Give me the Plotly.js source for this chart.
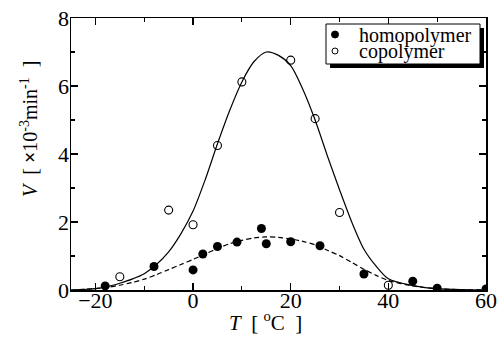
<!DOCTYPE html>
<html>
<head>
<meta charset="utf-8">
<script src="https://cdn.plot.ly/plotly-3.0.1.min.js"></script>
<style>html,body{margin:0;padding:0;background:#fff;}#chart{width:503px;height:346px;}</style>
</head>
<body>
<div id="chart"></div>
<script>
// Measured data points
const homoT = [-18, -8, 0, 2, 5, 9, 14, 15, 20, 26, 35, 45, 50, 60];
const homoV = [0.12, 0.69, 0.59, 1.06, 1.28, 1.41, 1.81, 1.36, 1.42, 1.30, 0.47, 0.26, 0.05, 0.03];
const copoT = [-15, -5, 0, 5, 10, 20, 25, 30, 40];
const copoV = [0.39, 2.35, 1.92, 4.25, 6.12, 6.76, 5.04, 2.28, 0.14];

// Fitted curves
const fitT = [-25, -20, -17.5, -15, -12.5, -10, -7.5, -5, -2.5, 0, 2.5, 5, 7.5, 10, 12.5, 15, 17.5, 20, 22.5, 25, 27.5, 30, 32.5, 35, 37.5, 40, 45, 50, 55, 60];
const copoFit = [0, 0.04, 0.1, 0.2, 0.32, 0.48, 0.75, 1.12, 1.65, 2.32, 3.25, 4.3, 5.28, 6.12, 6.72, 7.0, 6.9, 6.6, 5.9, 5.0, 3.95, 2.95, 2.0, 1.2, 0.7, 0.33, 0.13, 0.04, 0.01, 0];
const homoFit = [0, 0.04, 0.08, 0.14, 0.22, 0.32, 0.45, 0.6, 0.75, 0.9, 1.06, 1.22, 1.36, 1.46, 1.53, 1.56, 1.55, 1.5, 1.43, 1.33, 1.17, 1.01, 0.81, 0.61, 0.43, 0.28, 0.12, 0.04, 0.01, 0];

const legendLabels = ["homopolymer", "copolymer"];
const xTitle = "<i>T</i>  [ <sup>o</sup>C  ]";
const yTitle = "<i>V</i>  [ <b>×</b>10<sup>-3</sup>min<sup>-1</sup>  ]";

const serif = "Liberation Serif, Times New Roman, serif";

const traces = [
  {x: fitT, y: copoFit, mode: "lines", line: {color: "#000", width: 1.2, shape: "spline", smoothing: 0.8}, showlegend: false, hoverinfo: "skip"},
  {x: fitT, y: homoFit, mode: "lines", line: {color: "#000", width: 1.2, dash: "5px,3px", shape: "spline", smoothing: 0.8}, showlegend: false, hoverinfo: "skip"},
  {x: homoT, y: homoV, mode: "markers", name: legendLabels[0], marker: {symbol: "circle", size: 9, color: "#000"}, showlegend: false},
  {x: copoT, y: copoV, mode: "markers", name: legendLabels[1], marker: {symbol: "circle-open", size: 8, color: "#000", line: {width: 1.1}}, showlegend: false}
];

const L = 71, R = 486, T = 18, B = 290;
const W = R - L, H = B - T;
const px = v => (v - L) / W;
const py = v => (B - v) / H;

const layout = {
  width: 503, height: 346,
  margin: {l: 71, r: 17, t: 18, b: 56, pad: 0},
  paper_bgcolor: "#fff", plot_bgcolor: "#fff",
  font: {family: serif, color: "#000", size: 20},
  showlegend: false,
  xaxis: {
    range: [-25, 60], tick0: 0, dtick: 20,
    ticks: "inside", ticklen: 7, tickwidth: 1.2, tickcolor: "#000",
    minor: {dtick: 10, ticks: "inside", ticklen: 4, tickwidth: 1.2, tickcolor: "#000"},
    showline: true, linewidth: 1.5, linecolor: "#000", mirror: "allticks",
    showgrid: false, zeroline: false, ticklabelstandoff: -10,
    tickfont: {family: serif, size: 22, color: "#000"}
  },
  yaxis: {
    range: [0, 8], tick0: 0, dtick: 2,
    ticks: "inside", ticklen: 7, tickwidth: 1.2, tickcolor: "#000",
    minor: {dtick: 1, ticks: "inside", ticklen: 4, tickwidth: 1.2, tickcolor: "#000"},
    showline: true, linewidth: 1.5, linecolor: "#000", mirror: "allticks",
    showgrid: false, zeroline: false, ticklabelstandoff: -4,
    tickfont: {family: serif, size: 22, color: "#000"}
  },
  shapes: [
    {type: "rect", xref: "paper", yref: "paper", x0: px(330), x1: px(484), y0: py(68), y1: py(28), fillcolor: "#000", line: {width: 0}, layer: "above"},
    {type: "rect", xref: "paper", yref: "paper", x0: px(326), x1: px(480), y0: py(64), y1: py(24), fillcolor: "#fff", line: {color: "#000", width: 1}, layer: "above"},
    {type: "circle", xref: "paper", yref: "paper", x0: px(331.5), x1: px(338.5), y0: py(38), y1: py(31), fillcolor: "#000", line: {color: "#000", width: 1}, layer: "above"},
    {type: "circle", xref: "paper", yref: "paper", x0: px(332), x1: px(338), y0: py(54), y1: py(48), fillcolor: "#fff", line: {color: "#000", width: 1}, layer: "above"}
  ],
  annotations: [
    {text: legendLabels[0], xref: "paper", yref: "paper", x: px(357), y: py(35), xanchor: "left", yanchor: "middle", showarrow: false, font: {family: serif, size: 20, color: "#000"}},
    {text: legendLabels[1], xref: "paper", yref: "paper", x: px(357), y: py(51), xanchor: "left", yanchor: "middle", showarrow: false, font: {family: serif, size: 20, color: "#000"}},
    {text: xTitle, xref: "paper", yref: "paper", x: px(265), y: py(321), xanchor: "center", yanchor: "middle", showarrow: false, font: {family: serif, size: 21, color: "#000"}},
    {text: yTitle, xref: "paper", yref: "paper", x: px(29), y: py(129), xanchor: "center", yanchor: "middle", textangle: -90, showarrow: false, font: {family: serif, size: 20, color: "#000"}}
  ]
};

Plotly.newPlot("chart", traces, layout, {staticPlot: true, displayModeBar: false});
</script>
</body>
</html>
